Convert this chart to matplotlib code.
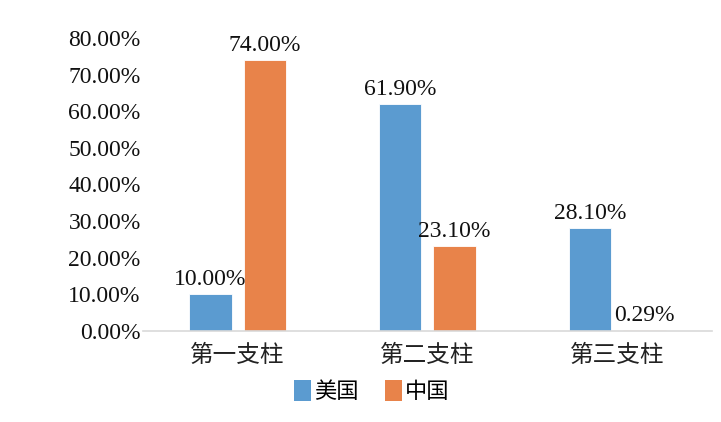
import matplotlib
matplotlib.use("Agg")
import matplotlib.pyplot as plt
import numpy as np
from matplotlib.ticker import FuncFormatter, MultipleLocator
from matplotlib.patches import Patch

categories = ["第一支柱", "第二支柱", "第三支柱"]
series_names = ["美国", "中国"]
usa = [10.00, 61.90, 28.10]
china = [74.00, 23.10, 0.29]
colors = ["#5B9BD0", "#E8834A"]

num_font = ["Liberation Serif", "Noto Sans CJK SC"]
cjk_font = ["Noto Sans CJK SC", "DejaVu Sans"]

fig = plt.figure(figsize=(7.21, 4.22), dpi=100)
ax = fig.add_axes([0.198, 0.2156, 0.7895, 0.6944])

x = np.arange(len(categories))
w = 0.224
off = 0.143
b1 = ax.bar(x - off, usa, w, color=colors[0], edgecolor="white", linewidth=0.6)
b2 = ax.bar(x + off, china, w, color=colors[1], edgecolor="white", linewidth=0.6)

for bars, vals in ((b1, usa), (b2, china)):
    for r, v in zip(bars, vals):
        ax.annotate(f"{v:.2f}%", (r.get_x() + r.get_width() / 2, r.get_height()),
                    xytext=(0, 3), textcoords="offset points", ha="center", va="bottom",
                    fontsize=17, family=num_font, color="#111111")

ax.set_xlim(-0.5, 2.5)
ax.set_ylim(0, 80)
ax.yaxis.set_major_locator(MultipleLocator(10))
ax.yaxis.set_major_formatter(FuncFormatter(lambda v, p: f"{v:.2f}%"))
for lab in ax.get_yticklabels():
    lab.set_family(num_font)
    lab.set_fontsize(17)
ax.tick_params(axis="y", length=0, pad=1.5, labelsize=17, colors="#111111")
ax.set_xticks(x)
ax.set_xticklabels(categories, fontsize=17, family=cjk_font, color="#222222")
ax.tick_params(axis="x", length=0, pad=9)

for s in ("top", "right", "left"):
    ax.spines[s].set_visible(False)
ax.spines["bottom"].set_color("#D9D9D9")
ax.spines["bottom"].set_linewidth(1.2)

handles = [Patch(facecolor=c, edgecolor="none") for c in colors]
leg = fig.legend(handles, series_names, loc="center", bbox_to_anchor=(0.516, 0.073),
                 ncol=2, frameon=False, prop={"family": cjk_font, "size": 16},
                 handlelength=0.75, handleheight=1.1, handletextpad=0.15, columnspacing=1.2)

fig.savefig("out.png", dpi=100)
